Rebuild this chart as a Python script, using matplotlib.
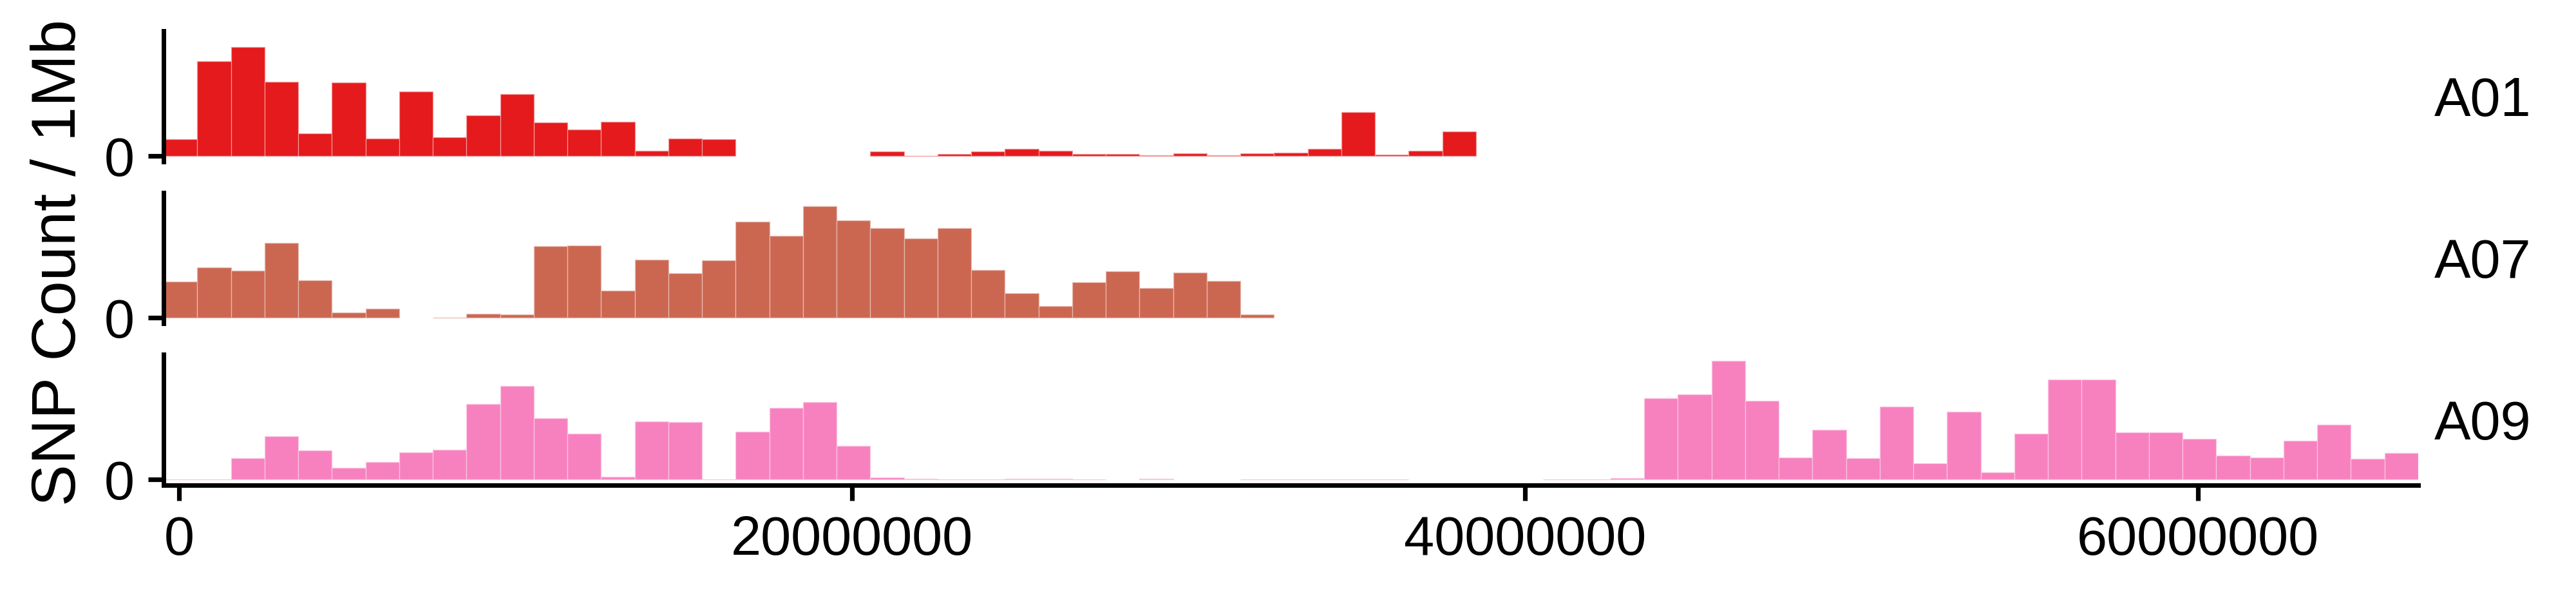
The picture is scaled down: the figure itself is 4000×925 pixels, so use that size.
import numpy as np
import matplotlib
matplotlib.use("Agg")
import matplotlib.pyplot as plt
from matplotlib.colors import to_rgb

plt.rcParams["font.family"] = ["Liberation Sans", "DejaVu Sans"]

# 1 Mb windows; window k covers [WIN0 + k*1Mb, WIN0 + (k+1)*1Mb)
WIN0 = -460000
WIN = 1000000

chromosomes = ["A01", "A07", "A09"]
colors = ["#e41a1c", "#cb6751", "#f781bf"]

# SNP count per window (None = window absent)
a01_counts = [25.7, 146.7, 168.7, 114.3, 35, 113.3, 26.3, 99.3, 28.7, 62.3,
              95.7, 51.3, 40.3, 52.7, 7.7, 26.3, 25.7, None, None, None,
              None, 6.7, 0, 2.7, 6.7, 10.7, 7.7, 3, 2.3, 0.7,
              3.7, 0.7, 4, 4.7, 10.7, 67.7, 1.7, 7.7, 37.7]
a07_counts = [55.7, 77.3, 73, 115.7, 57.3, 7.3, 13.3, None, 0, 5.3,
              4.7, 110.7, 111.7, 41.7, 89.7, 68.3, 89, 149, 126.3, 172.7,
              150.7, 138.7, 122.7, 139, 73.3, 37.3, 17.3, 54.7, 71.7, 45.3,
              69.3, 56.3, 5]
a09_counts = [0, 0, 33.3, 67.3, 45.3, 18.3, 27.3, 42.3, 46, 117,
              145, 95.3, 71, 4, 90.3, 89.3, 0, 74.3, 111, 120.3,
              52.3, 2.7, 1.3, 0, 0, 0.5, 0.5, 0, None, 0.4,
              None, None, 0, 0, 0.2, 0, 0, None, None, None,
              None, 0, 0, 2.0, 126.3, 131.7, 184.3, 121.7, 34, 77.3,
              33.3, 113, 25, 105.3, 10.7, 71.3, 155.3, 155, 72.7, 73.3,
              63, 36.7, 34.3, 60.3, 85.3, 32.3, 41.3]
all_counts = [a01_counts, a07_counts, a09_counts]

n_windows = 67
xticks = [0, 20000000, 40000000, 60000000]


def tint(color, amount=0.55):
    r, g, b = to_rgb(color)
    return (r + (1 - r) * amount, g + (1 - g) * amount, b + (1 - b) * amount)


fig, axes = plt.subplots(3, 1, figsize=(20, 4.625), dpi=200, sharex=True, sharey=True)
fig.subplots_adjust(left=0.0635, right=0.93875, top=0.9481, bottom=0.1859, hspace=0.239)

ymax = max(v for counts in all_counts for v in counts if v is not None)

for ax, name, color, counts in zip(axes, chromosomes, colors, all_counts):
    vals = np.array([np.nan if v is None else v for v in counts], dtype=float)
    starts = WIN0 + np.arange(len(vals)) * WIN
    keep = ~np.isnan(vals)
    ax.bar(starts[keep], vals[keep], width=WIN, align="edge", color=color,
           edgecolor=tint(color), linewidth=0.45)

    ax.set_xlim(WIN0, WIN0 + n_windows * WIN)
    ax.set_ylim(-0.05 * ymax, 1.05 * ymax)
    ax.set_yticks([0])
    ax.set_yticklabels(["0"])

    for side in ["top", "right"]:
        ax.spines[side].set_visible(False)
    for sp in ax.spines.values():
        sp.set_linewidth(2.52)
    ax.tick_params(axis="y", length=8.6, width=2.6, pad=7.6, labelsize=30.5)
    ax.tick_params(axis="x", length=8.8, width=2.6, pad=7.8, labelsize=30.5)

    ax.text(1.0071, 0.3498, name, transform=ax.transAxes, ha="left", va="baseline",
            fontsize=30.5)

for ax in axes[:-1]:
    ax.spines["bottom"].set_visible(False)
    ax.tick_params(axis="x", bottom=False, labelbottom=False)

axes[-1].set_xticks(xticks)
axes[-1].set_xticklabels([str(t) for t in xticks])

fig.text(0.023, 1 - 407 / 925, "SNP Count / 1Mb", rotation=90, ha="center", va="center",
         fontsize=35)

fig.savefig("out.png", dpi=200, facecolor="white")
plt.close(fig)
